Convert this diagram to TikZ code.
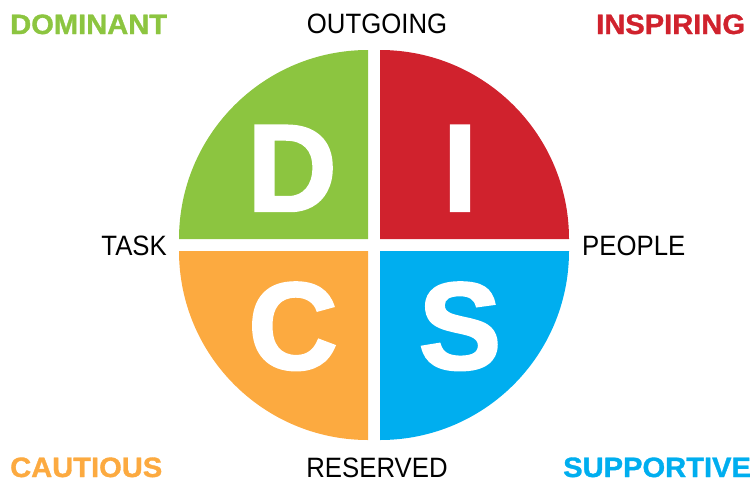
\documentclass[tikz,border=0pt]{standalone}
\usepackage{fontspec}
\setmainfont{Liberation Sans}
\newfontfamily\axisfont[FakeStretch=0.92]{Liberation Sans}
\newfontfamily\traitfont[FakeStretch=1.04,FakeBold=1.2]{Liberation Sans Bold}
\newfontfamily\letterfont[FakeBold=2]{Liberation Sans Bold}
\usepackage{xcolor}
\usepackage{tikz}
\usetikzlibrary{calc}

\definecolor{discgreen}{HTML}{8CC540}
\definecolor{discred}{HTML}{D0222D}
\definecolor{discblue}{HTML}{00AEEF}
\definecolor{discorange}{HTML}{FCAA40}

\begin{document}
\begin{tikzpicture}[x=1pt,y=-1pt,
    axis/.style={font=\axisfont\fontsize{28}{28}\selectfont,inner sep=0pt,text=black},
    trait/.style={font=\traitfont\fontsize{28}{28}\selectfont,inner sep=0pt,anchor=base west},
    letter/.style={font=\letterfont\fontsize{124}{124}\selectfont,text=white,inner sep=0pt,anchor=base}]
\useasboundingbox (0,0) rectangle (751,482);
% Quadrants
\foreach \cx/\cy/\a/\col in {368/239/180/discgreen,380/239/270/discred,380/251/0/discblue,368/251/90/discorange} {
    \fill[\col] (\cx,\cy) -- ++(\a:189) arc[start angle=\a,end angle=\a+90,radius=189] -- cycle;
}

\node[letter] (D) at (292,211) {D};
\node[letter] (I) at (460,211) {I};
\node[letter] (C) at (293,369) {C};
\node[letter] (S) at (460,369) {S};

% Axis labels
\node[axis,anchor=base] (outgoing) at (377,33) {OUTGOING};
\node[axis,anchor=base] (reserved) at (377,477) {RESERVED};
\node[axis,anchor=base east] (task) at (167,255) {TASK};
\node[axis,anchor=base west] (people) at (582,255) {PEOPLE};

% Styles
\node[trait,text=discgreen] (dominant) at (10,34) {DOMINANT};
\node[trait,text=discred] (inspiring) at (596,34) {INSPIRING};
\node[trait,text=discorange] (cautious) at (10,477) {CAUTIOUS};
\node[trait,text=discblue] (supportive) at (563,477) {SUPPORTIVE};
\end{tikzpicture}
\end{document}
